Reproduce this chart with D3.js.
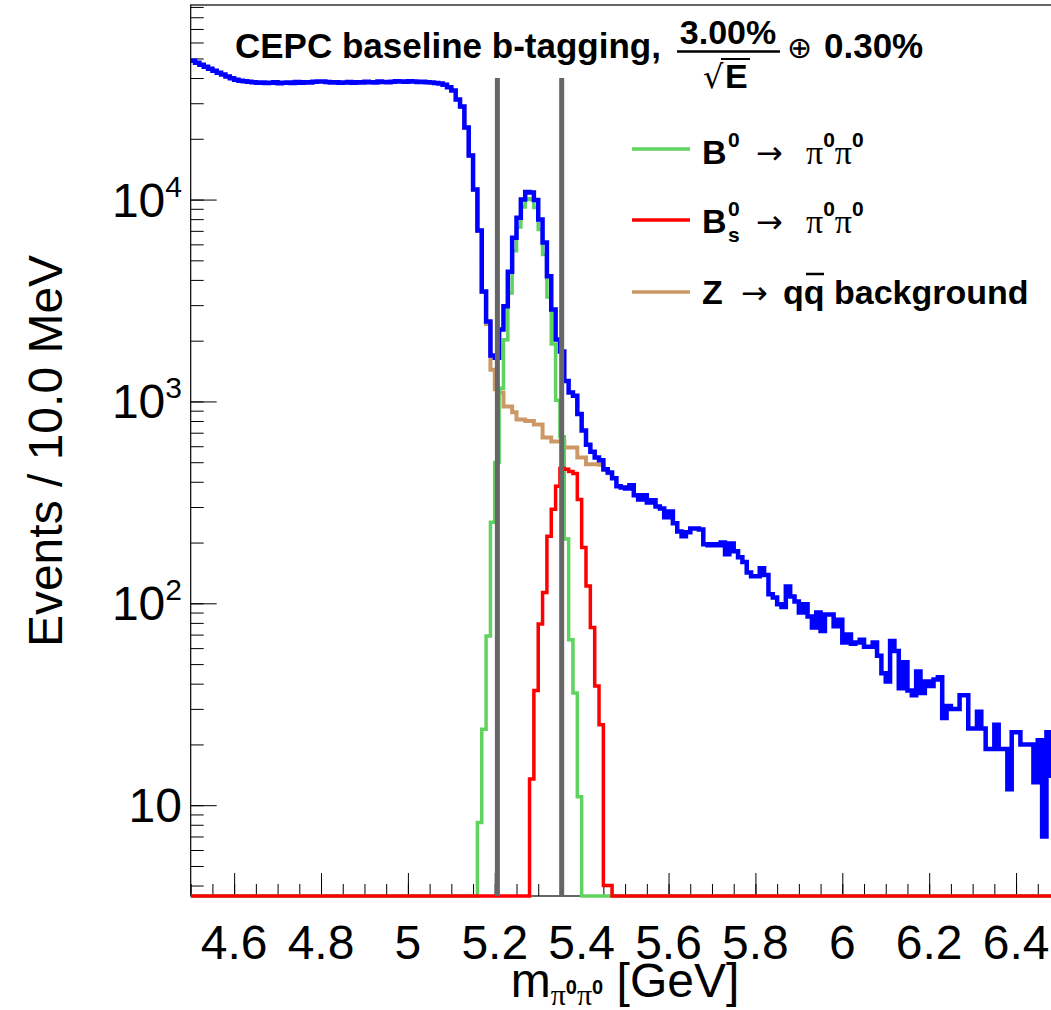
<!DOCTYPE html>
<html>
<head>
<meta charset="utf-8">
<script src="https://cdn.jsdelivr.net/npm/d3@7"></script>
<style>
  html, body { margin: 0; padding: 0; background: #fff; }
  svg { display: block; font-family: "Liberation Sans", Arial, Helvetica, sans-serif; }
</style>
</head>
<body>
<div id="chart"></div>
<script>
// Binning: 10 MeV bins from 4.5 GeV
const massMin = 4.5, massMax = 6.5, binWidth = 0.01;

// Total (blue), one value per bin, 4.50 -> 6.50 GeV
const totalCounts = [
  48750, 47650, 46550, 45500, 44500, 43500, 42500, 41600, 40650, 39900,
  39250, 38800, 38550, 38300, 38100, 37900, 38000, 37800, 37900, 38100,
  37700, 37900, 38000, 37800, 38200, 37900, 38100, 38000, 38300, 38500,
  38400, 38200, 38000, 38100, 37900, 38000, 38200, 37900, 38100, 38000,
  38300, 38100, 38000, 38400, 38200, 38100, 38300, 38600, 38500, 38300,
  38600, 38400, 38200, 38300, 38100, 38000, 37800, 37600, 37060, 36050,
  34650, 31270, 28870, 22720, 16510, 11210, 7022, 3504, 2489, 1689,
  1648, 2272, 2964, 4386, 6463, 8118, 10000, 10890, 10830, 9943,
  7962, 6125, 4173, 2853, 2027, 1768, 1262, 1108, 1068, 866,
  717, 610, 564, 527, 511, 461, 445, 416, 380, 375,
  371, 384, 343, 327, 343, 316, 324, 302, 295, 267,
  285, 249, 227, 215, 225, 235, 235, 232, 196, 194,
  196, 194, 200, 175, 198, 181, 169, 160, 142, 136,
  136, 149, 138, 111, 107, 99, 96, 121, 108, 102,
  90, 99, 86, 76, 90, 73, 88, 88, 77, 83,
  64, 70, 63, 64, 66, 61, 61, 64, 55, 45,
  41, 65, 58, 38, 51, 37, 35, 46, 36, 41,
  39, 42, 43, 27, 31, 30, 30, 35, 35, 24,
  24, 29, 24, 19, 19, 25, 19, 19, 12, 23,
  23, 20, 20, 20, 13, 21, 7, 23, 14, 17
];

// Z -> qq background (brown), where it separates from the total
const bkgStart = 5.12;
const bkgCounts = [
  28870, 22720, 16510, 11210, 7014, 3480, 2420, 1437, 1149, 1109,
  944, 944, 883, 815, 815, 800, 800, 769, 769, 663,
  663, 634, 634, 634, 592, 592, 592, 528, 528, 488,
  488, 488, 486, 457, 441
];

// B0 -> pi0 pi0 (green)
const b0Start = 5.16;
const b0Counts = [
  8.2, 23.8, 68.8, 252, 499, 1163, 2020, 3442, 5580, 7303,
  9185, 10090, 10016, 9137, 7114, 5349, 3295, 1927, 1013, 669,
  208, 66, 36, 11
];

// Bs0 -> pi0 pi0 (red)
const bsStart = 5.28;
const bsCounts = [
  13.5, 37, 79, 113, 215, 292, 380, 465, 462, 450,
  440, 327, 189, 122, 76, 39, 25, 4, 4
];

// mass window cuts (grey lines)
const cutValues = [5.206, 5.354];
const cutTop = 40000;

const xTickValues = [4.6, 4.8, 5, 5.2, 5.4, 5.6, 5.8, 6, 6.2, 6.4];
const xTickLabels = ["4.6", "4.8", "5", "5.2", "5.4", "5.6", "5.8", "6", "6.2", "6.4"];
const yTickValues = [10, 100, 1000, 10000];
const yTickExp = ["", "2", "3", "4"];

const legendColors = ["#5fd35f", "#ff0000", "#cc9966"];

// ---- setup
const W = 1051, H = 1010;
const frame = {left: 190.7, right: 1059.5, top: 5, bottom: 896};

const svg = d3.select("#chart").append("svg")
    .attr("width", W)
    .attr("height", H);

svg.append("rect").attr("width", W).attr("height", H).attr("fill", "#fff");

const x = d3.scaleLinear().domain([massMin, massMax]).range([frame.left, frame.right]);
const y = d3.scaleLog().domain([3.55, 92000]).range([frame.bottom, frame.top]);

// ---- axes (ticks inside the frame)
const xMinor = svg.append("g")
    .attr("transform", `translate(0,${frame.bottom})`)
    .call(d3.axisTop(x).tickValues(x.ticks(40)).tickSize(12).tickFormat(""));
const xMajor = svg.append("g")
    .attr("transform", `translate(0,${frame.bottom})`)
    .call(d3.axisTop(x).tickValues(xTickValues).tickSize(23).tickFormat(""));
const yMinor = svg.append("g")
    .attr("transform", `translate(${frame.left},0)`)
    .call(d3.axisRight(y).tickValues(y.ticks()).tickSize(13).tickFormat(""));
const yMajor = svg.append("g")
    .attr("transform", `translate(${frame.left},0)`)
    .call(d3.axisRight(y).tickValues(yTickValues).tickSize(26).tickFormat(""));
[xMinor, xMajor, yMinor, yMajor].forEach(g => {
  g.select(".domain").remove();
  g.selectAll("line").attr("stroke", "#000").attr("stroke-width", 1);
});

svg.append("rect")
    .attr("x", frame.left).attr("y", frame.top)
    .attr("width", frame.right - frame.left).attr("height", frame.bottom - frame.top)
    .attr("fill", "none")
    .attr("stroke", "#000")
    .attr("stroke-width", 1.2);

svg.append("clipPath").attr("id", "plotClip")
  .append("rect")
    .attr("x", frame.left).attr("y", frame.top - 2)
    .attr("width", frame.right - frame.left).attr("height", frame.bottom - frame.top + 4);

// histogram as a step line; empty bins sit on the bottom of the frame
function binPoints(start, counts, nBins) {
  const first = Math.round((start - massMin) / binWidth);
  const pts = [];
  for (let i = 0; i < nBins; i++) {
    const k = i - first;
    const c = (k >= 0 && k < counts.length) ? counts[k] : 0;
    pts.push([massMin + i * binWidth, c]);
  }
  pts.push([massMin + nBins * binWidth, pts[pts.length - 1][1]]);
  return pts;
}

const stepLine = d3.line()
    .x(d => x(d[0]))
    .y(d => d[1] > 0 ? y(d[1]) : frame.bottom)
    .curve(d3.curveStepAfter);

const nAll = Math.round((massMax - massMin) / binWidth);
const plot = svg.append("g").attr("clip-path", "url(#plotClip)");

// background only over its visible window
const bkgPts = bkgCounts.map((c, i) => [bkgStart + i * binWidth, c]);
bkgPts.push([bkgStart + bkgCounts.length * binWidth, bkgCounts[bkgCounts.length - 1]]);

plot.append("path")
    .datum(bkgPts)
    .attr("d", stepLine)
    .attr("fill", "none")
    .attr("stroke", "#cc9966")
    .attr("stroke-width", 4);

plot.append("path")
    .datum(binPoints(b0Start, b0Counts, nAll))
    .attr("d", stepLine)
    .attr("fill", "none")
    .attr("stroke", "#5fd35f")
    .attr("stroke-width", 3.5);

plot.append("path")
    .datum(binPoints(bsStart, bsCounts, nAll))
    .attr("d", stepLine)
    .attr("fill", "none")
    .attr("stroke", "#ff0000")
    .attr("stroke-width", 3.5);

plot.append("path")
    .datum(binPoints(massMin, totalCounts, nAll))
    .attr("d", stepLine)
    .attr("fill", "none")
    .attr("stroke", "#0000ff")
    .attr("stroke-width", 4.5);

// cut lines
plot.selectAll(".cut")
  .data(cutValues)
  .join("line")
    .attr("x1", d => x(d)).attr("x2", d => x(d))
    .attr("y1", y(cutTop)).attr("y2", frame.bottom)
    .attr("stroke", "#666")
    .attr("stroke-width", 5);

// tick labels
svg.append("g").selectAll("text")
  .data(xTickValues)
  .join("text")
    .attr("x", d => x(d))
    .attr("y", 959)
    .attr("text-anchor", "middle")
    .attr("font-size", 48)
    .text((d, i) => xTickLabels[i]);

const yLab = svg.append("g").selectAll("text")
  .data(yTickValues)
  .join("text")
    .attr("x", 182)
    .attr("y", d => y(d) + 17)
    .attr("text-anchor", "end")
    .attr("font-size", 48);
yLab.append("tspan").text("10");
yLab.append("tspan")
    .attr("font-size", 30)
    .attr("dy", (d, i) => yTickExp[i] ? -20 : 0)
    .text((d, i) => yTickExp[i]);

// axis titles
svg.append("text")
    .attr("transform", "translate(62,451) rotate(-90)")
    .attr("text-anchor", "middle")
    .attr("font-size", 48)
    .text("Events / 10.0 MeV");

const xt = svg.append("text")
    .attr("x", 625)
    .attr("y", 997)
    .attr("text-anchor", "middle")
    .attr("font-size", 48);
xt.append("tspan").text("m");
xt.append("tspan").attr("dy", 8).attr("font-size", 30).attr("font-family", "Liberation Serif, serif").text("\u03c0");
xt.append("tspan").attr("dy", -11).attr("font-size", 20).attr("font-weight", "bold").text("0");
xt.append("tspan").attr("dy", 11).attr("font-size", 30).attr("font-family", "Liberation Serif, serif").text("\u03c0");
xt.append("tspan").attr("dy", -11).attr("font-size", 20).attr("font-weight", "bold").text("0");
xt.append("tspan").attr("dy", 3).text(" [GeV]");

// ---- top label
svg.append("text")
    .attr("x", 235).attr("y", 58)
    .attr("font-size", 35).attr("font-weight", "bold")
    .text("CEPC baseline b-tagging,");
svg.append("text")
    .attr("x", 728).attr("y", 44)
    .attr("text-anchor", "middle")
    .attr("font-size", 34).attr("font-weight", "bold")
    .text("3.00%");
svg.append("line")
    .attr("x1", 677).attr("x2", 780).attr("y1", 51.5).attr("y2", 51.5)
    .attr("stroke", "#000").attr("stroke-width", 2.5);
svg.append("text")
    .attr("x", 703).attr("y", 88)
    .attr("font-size", 32).attr("font-family", "DejaVu Sans, sans-serif")
    .text("\u221a");
svg.append("line")
    .attr("x1", 721).attr("x2", 750).attr("y1", 59).attr("y2", 59)
    .attr("stroke", "#000").attr("stroke-width", 2);
svg.append("text")
    .attr("x", 725).attr("y", 88)
    .attr("font-size", 34).attr("font-weight", "bold")
    .text("E");
svg.append("text")
    .attr("x", 787).attr("y", 58)
    .attr("font-size", 30).attr("font-family", "DejaVu Sans, sans-serif")
    .text("\u2295");
svg.append("text")
    .attr("x", 824).attr("y", 58)
    .attr("font-size", 35).attr("font-weight", "bold")
    .text("0.30%");

// ---- legend
const legRows = [149, 220, 292];
svg.append("g").selectAll("line")
  .data(legendColors)
  .join("line")
    .attr("x1", 632).attr("x2", 690)
    .attr("y1", (d, i) => legRows[i]).attr("y2", (d, i) => legRows[i])
    .attr("stroke", d => d)
    .attr("stroke-width", 3.5);

function decayText(g, yBase, withSub) {
  g.append("text").attr("x", 702).attr("y", yBase)
      .attr("font-size", 34).attr("font-weight", "bold").text("B");
  g.append("text").attr("x", 728).attr("y", yBase - 17)
      .attr("font-size", 21).attr("font-weight", "bold").text("0");
  if (withSub) {
    g.append("text").attr("x", 728).attr("y", yBase + 9)
        .attr("font-size", 21).attr("font-weight", "bold").text("s");
  }
  g.append("text").attr("x", 756).attr("y", yBase)
      .attr("font-size", 32).attr("font-family", "DejaVu Sans, sans-serif").text("\u2192");
  const p = g.append("text").attr("x", 806).attr("y", yBase).attr("font-size", 34);
  p.append("tspan").attr("font-family", "Liberation Serif, serif").text("\u03c0");
  p.append("tspan").attr("dy", -17).attr("font-size", 21).attr("font-weight", "bold").text("0");
  p.append("tspan").attr("dy", 17).attr("font-family", "Liberation Serif, serif").text("\u03c0");
  p.append("tspan").attr("dy", -17).attr("font-size", 21).attr("font-weight", "bold").text("0");
}
const leg = svg.append("g");
decayText(leg, 164, false);
decayText(leg, 233, true);
leg.append("text").attr("x", 702).attr("y", 304)
    .attr("font-size", 34).attr("font-weight", "bold").text("Z");
leg.append("text").attr("x", 741).attr("y", 304)
    .attr("font-size", 32).attr("font-family", "DejaVu Sans, sans-serif").text("\u2192");
leg.append("text").attr("x", 783).attr("y", 304)
    .attr("font-size", 34).attr("font-weight", "bold").text("qq background");
leg.append("line")
    .attr("x1", 806).attr("x2", 824).attr("y1", 274).attr("y2", 274)
    .attr("stroke", "#000").attr("stroke-width", 2.5);
</script>
</body>
</html>
